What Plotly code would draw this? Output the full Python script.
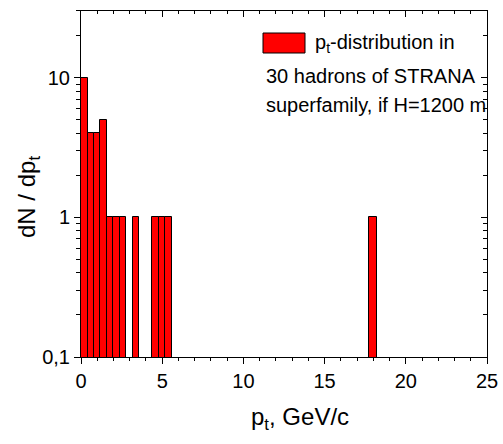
import plotly.graph_objects as go

# data
pt_centers = [0.2, 0.6, 1.0, 1.4, 1.8, 2.2, 2.6, 3.4, 4.6, 5.0, 5.4, 18.0]
dn_dpt = [10, 4, 4, 5, 1, 1, 1, 1, 1, 1, 1, 1]
bin_width = [0.4, 0.4, 0.4, 0.4, 0.4, 0.4, 0.4, 0.4, 0.4, 0.4, 0.4, 0.5]

x_range = [0, 25]
y_range_log = [-1, 1.477]

FONT = "Liberation Sans, Arial, sans-serif"

fig = go.Figure()
fig.add_trace(go.Bar(
    x=pt_centers, y=dn_dpt, width=bin_width,
    marker=dict(color="#ff0000", line=dict(color="black", width=1)),
    showlegend=False,
))
# dummy trace for mirrored axes
fig.add_trace(go.Scatter(x=[1], y=[1], xaxis="x2", yaxis="y2", mode="markers",
                         marker=dict(opacity=0), showlegend=False, hoverinfo="skip"))

W, H = 503, 444
ml, mr, mt, mb = 81, 16, 11, 87
pw, ph = W - ml - mr, H - mt - mb

def px(xp):
    return (xp - ml) / pw

def py(yp):
    return (H - mb - yp) / ph

axis_common = dict(showline=True, linecolor="black", linewidth=1, showgrid=False,
                   zeroline=False, mirror=False, automargin=False)

fig.update_layout(
    width=W, height=H, autosize=False,
    margin=dict(l=ml, r=mr, t=mt, b=mb, pad=0, autoexpand=False),
    paper_bgcolor="white", plot_bgcolor="white",
    separators=",.",
    font=dict(family=FONT, color="black", size=20),
    bargap=0,
    xaxis=dict(range=x_range, dtick=5, tick0=0, ticks="outside", ticklen=6,
               tickwidth=1, tickcolor="black",
               tickfont=dict(size=20),
               minor=dict(dtick=1, ticks="outside", ticklen=3, tickcolor="black"),
               **axis_common),
    yaxis=dict(type="log", range=y_range_log, dtick=1, ticks="outside", ticklen=6,
               tickwidth=1, tickcolor="black", tickfont=dict(size=20),
               minor=dict(dtick="D1", ticks="outside", ticklen=4, tickcolor="black"),
               **axis_common),
    xaxis2=dict(range=x_range, overlaying="x", side="top", dtick=5, tick0=0,
                ticks="inside", ticklen=6, tickcolor="black", showticklabels=False,
                minor=dict(dtick=1, ticks="inside", ticklen=3, tickcolor="black"),
                **axis_common),
    yaxis2=dict(type="log", range=y_range_log, overlaying="y", side="right", dtick=1,
                ticks="inside", ticklen=6, tickcolor="black", showticklabels=False,
                minor=dict(dtick="D1", ticks="inside", ticklen=4, tickcolor="black"),
                **axis_common),
)

# legend-like box and text
fig.add_shape(type="rect", xref="paper", yref="paper",
              x0=px(263), x1=px(305), y0=py(53), y1=py(33),
              fillcolor="#ff0000", line=dict(color="black", width=1))
fig.add_annotation(xref="paper", yref="paper", x=px(313), y=py(44),
                   xanchor="left", yanchor="middle", showarrow=False,
                   text="p<sub>t</sub>-distribution in", font=dict(size=20))
fig.add_annotation(xref="paper", yref="paper", x=px(264), y=py(76),
                   xanchor="left", yanchor="middle", showarrow=False,
                   text="30 hadrons of STRANA", font=dict(size=20))
fig.add_annotation(xref="paper", yref="paper", x=px(264), y=py(105),
                   xanchor="left", yanchor="middle", showarrow=False,
                   text="superfamily, if H=1200 m", font=dict(size=20))

# axis titles
fig.add_annotation(xref="paper", yref="paper", x=px(300), y=py(418),
                   xanchor="center", yanchor="middle", showarrow=False,
                   text="p<sub>t</sub>, GeV/c", font=dict(size=24))
fig.add_annotation(xref="paper", yref="paper", x=px(28), y=py(197),
                   xanchor="center", yanchor="middle", showarrow=False,
                   textangle=-90,
                   text="dN / dp<sub>t</sub>", font=dict(size=24))

fig.write_html(
    "out.html",
    config={"displayModeBar": False},
    post_script="document.body.style.margin='0';document.body.style.overflow='hidden';",
)
